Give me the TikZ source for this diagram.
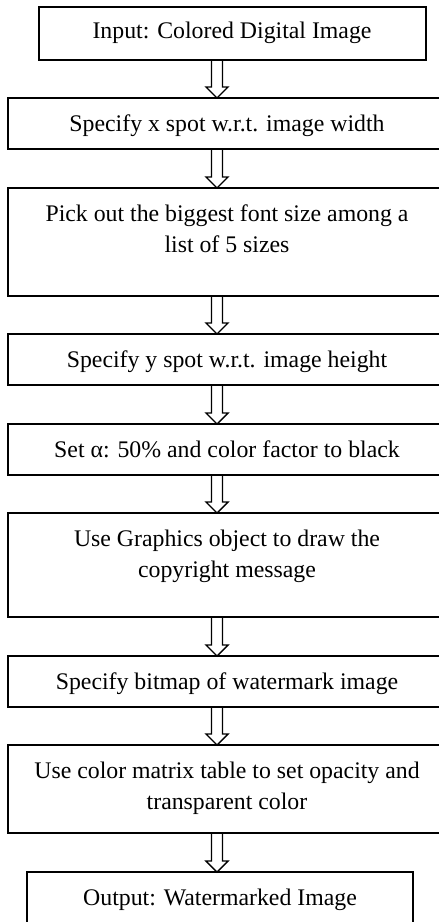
\documentclass[tikz,border=0pt]{standalone}
\usepackage{fontspec}
\setmainfont{Liberation Serif}
\usetikzlibrary{calc}
% hollow block arrow from the bottom of one box to the top of the next
\newcommand\flowarrow[2]{%
  \draw[arrowline]
    ($(#1.south -| ax)+(-5.5,0)$) -- ($(#2.north -| ax)+(-5.5,11)$)
    -- ($(#2.north -| ax)+(-11,11)$) -- (#2.north -| ax)
    -- ($(#2.north -| ax)+(11,11)$) -- ($(#2.north -| ax)+(5.5,11)$)
    -- ($(#1.south -| ax)+(5.5,0)$);}
\newcommand\firstline{\rule{0pt}{20pt}}
\begin{document}
\begin{tikzpicture}[x=1pt,y=1pt,
  box/.style={draw, line width=1.8pt, rectangle, inner sep=0pt, outer sep=0pt, anchor=north west},
  boxtext/.style={font=\fontsize{23.8}{31.5}\selectfont, align=center, inner sep=0pt, anchor=north},
  arrowline/.style={line width=1.4pt, line join=miter}]
\useasboundingbox (0,0) rectangle (439,-922);
\clip (0,0) rectangle (439,-922);
\fill[white] (0,0) rectangle (439,-922);
\coordinate (ax) at (217,0);

% process boxes
\node[box, minimum width=387pt, minimum height=53pt]  (b1) at (39,-7) {};
\node[box, minimum width=452pt, minimum height=51pt]  (b2) at (8,-98) {};
\node[box, minimum width=452pt, minimum height=108pt] (b3) at (8,-188) {};
\node[box, minimum width=452pt, minimum height=51pt]  (b4) at (8,-334) {};
\node[box, minimum width=452pt, minimum height=51pt]  (b5) at (8,-424) {};
\node[box, minimum width=452pt, minimum height=104pt] (b6) at (8,-513) {};
\node[box, minimum width=452pt, minimum height=51pt]  (b7) at (8,-656) {};
\node[box, minimum width=452pt, minimum height=88pt]  (b8) at (8,-745) {};
\node[box, minimum width=386pt, minimum height=70pt]  (b9) at (27,-872) {};

% box texts
\node[boxtext] (t1) at (232,-18)  {\firstline Input: Colored Digital Image};
\node[boxtext] (t2) at (227,-111) {\firstline Specify x spot w.r.t. image width};
\node[boxtext] (t3) at (227,-201) {\firstline Pick out the biggest font size among a\\ list of 5 sizes};
\node[boxtext] (t4) at (227,-347) {\firstline Specify y spot w.r.t. image height};
\node[boxtext] (t5) at (227,-437) {\firstline Set α: 50\% and color factor to black};
\node[boxtext] (t6) at (227,-526) {\firstline Use Graphics object to draw the\\ copyright message};
\node[boxtext] (t7) at (227,-669) {\firstline Specify bitmap of watermark image};
\node[boxtext] (t8) at (227,-758) {\firstline Use color matrix table to set opacity and\\ transparent color};
\node[boxtext] (t9) at (220,-885) {\firstline Output: Watermarked Image};

% connectors
\flowarrow{b1}{b2}
\flowarrow{b2}{b3}
\flowarrow{b3}{b4}
\flowarrow{b4}{b5}
\flowarrow{b5}{b6}
\flowarrow{b6}{b7}
\flowarrow{b7}{b8}
\flowarrow{b8}{b9}
\end{tikzpicture}
\end{document}
